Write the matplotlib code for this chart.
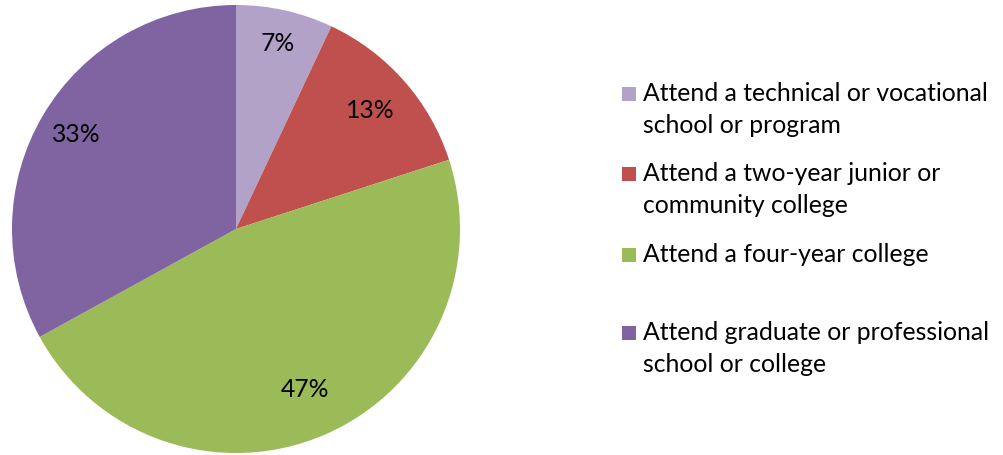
import matplotlib
matplotlib.use('Agg')
import numpy as np
import matplotlib.pyplot as plt
from matplotlib.patches import Rectangle

# data
labels = ['Attend a technical or vocational\nschool or program',
          'Attend a two-year junior or\ncommunity college',
          'Attend a four-year college',
          'Attend graduate or professional\nschool or college']
shares = [7, 13, 47, 33]
colors = ['#B3A2C7', '#C0504D', '#9BBB59', '#8064A2']

plt.rcParams['font.family'] = ['Lato', 'DejaVu Sans']
FS = 17.8
W, H = 1004., 455.

fig = plt.figure(figsize=(10.04, 4.55), dpi=100)
ax = fig.add_axes([12/W, 2/H, 448/W, 448/H])
wedges, texts, autotexts = ax.pie(shares, colors=colors, startangle=90, counterclock=False,
                                  autopct='%d%%', pctdistance=0.81,
                                  wedgeprops=dict(linewidth=0),
                                  textprops=dict(fontsize=FS, color='black'))
# excel "best fit" label radii
pct_r = [0.85, 0.80, 0.78, 0.83]
for w, t, r in zip(wedges, autotexts, pct_r):
  ang = np.deg2rad((w.theta1 + w.theta2)/2.)
  t.set_position((r*np.cos(ang), r*np.sin(ang)))
ax.set_xlim(-1, 1)
ax.set_ylim(-1, 1)
ax.set_aspect('equal')
ax.axis('off')

# legend drawn by hand, baseline (px from top) of first line of each entry
bases = [101, 181, 262, 340]
lstep = 32
for lab, col, yb in zip(labels, colors, bases):
  fig.patches.append(Rectangle((622/W, 1 - yb/H), 14/W, 14/H,
                               transform=fig.transFigure, facecolor=col, edgecolor='none'))
  for i, line in enumerate(lab.split('\n')):
    fig.text(643/W, 1 - (yb + i*lstep)/H, line, fontsize=FS, va='baseline', ha='left')

fig.savefig('out.png', dpi=100)
